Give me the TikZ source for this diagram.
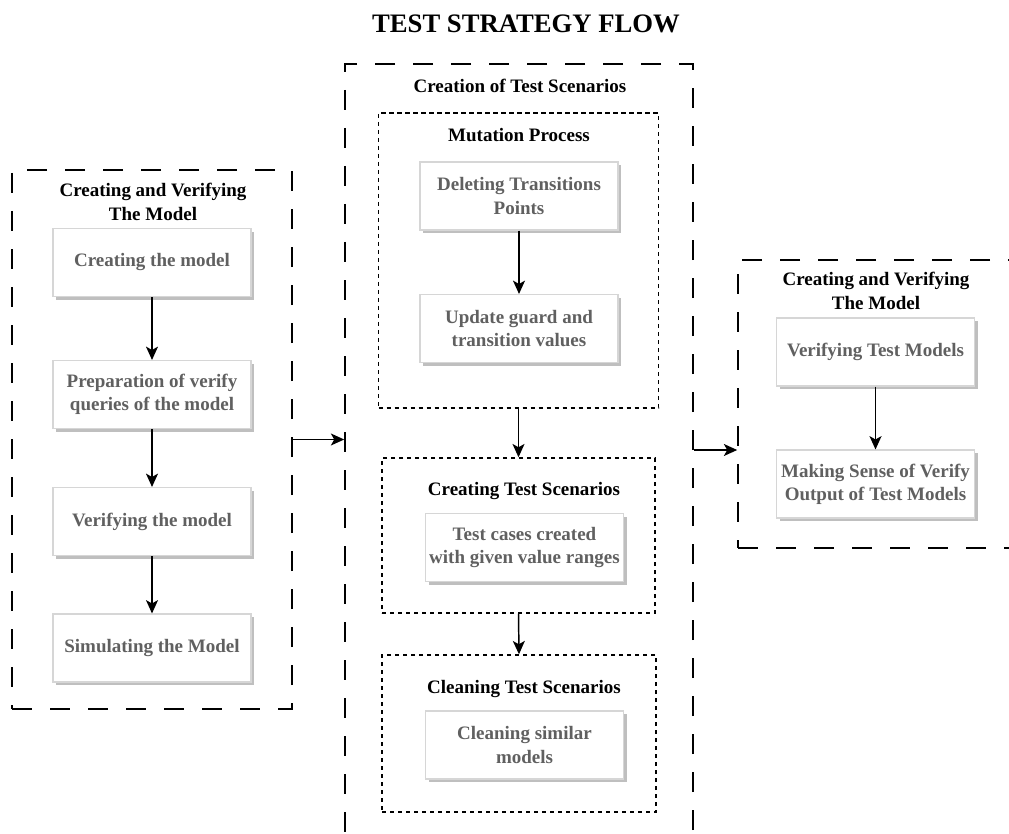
\documentclass[tikz,border=0pt]{standalone}
\usepackage{fontspec}
\setmainfont{Liberation Serif}
\usetikzlibrary{arrows.meta,shadows}

\definecolor{tasktext}{RGB}{96,96,96}
\definecolor{taskline}{RGB}{214,214,214}

\tikzset{
  task/.style={draw=taskline, line width=0.8pt, fill=white, text=tasktext,
    align=center, minimum width=148.5pt, minimum height=51pt, inner sep=0pt,
    drop shadow={shadow xshift=2.6pt, shadow yshift=-2.6pt, fill=black!25, opacity=1}},
  stage/.style={draw, line width=1.2pt, dash pattern=on 15pt off 13.5pt, inner sep=0pt},
  phase/.style={draw, line width=1.1pt, dash pattern=on 3.2pt off 2.8pt, inner sep=0pt},
  caption/.style={align=center, text=black},
  flow/.style={-{Stealth[length=10pt,width=9pt,inset=2.5pt]}, line width=1.1pt},
}

\begin{document}
\begin{tikzpicture}[x=0.75pt, y=-0.75pt,
    font=\fontsize{14.25}{17.5}\selectfont\bfseries]
\clip (0,0) rectangle (1009,834);

\node[font=\fontsize{20}{24}\selectfont\bfseries] (title) at (526,24) {TEST STRATEGY FLOW};

% model stage
\node[stage, minimum width=210pt, minimum height=404.25pt] (model) at (152,439.5) {};
\node[caption] (modelcap) at (153,202) {Creating and Verifying\\The Model};
\node[task] (create) at (152,262.5) {Creating the model};
\node[task] (prepare) at (152,394.5) {Preparation of verify\\queries of the model};
\node[task] (verify) at (152,521.5) {Verifying the model};
\node[task] (simulate) at (152,648) {Simulating the Model};

\draw[flow] (create) -- (prepare);
\draw[flow] (prepare) -- (verify);
\draw[flow] (verify) -- (simulate);

% scenario stage
\node[stage, minimum width=261pt, minimum height=627pt] (scen) at (519,482) {};
\node[caption] (scencap) at (520,86) {Creation of Test Scenarios};

\node[phase, minimum width=210pt, minimum height=221.25pt] (mutate) at (518.5,260.5) {};
\node[caption] (mutatecap) at (519,135) {Mutation Process};
\node[task] (delete) at (519,196) {Deleting Transitions\\Points};
\node[task] (update) at (519,328.5) {Update guard and\\transition values};
\draw[flow] (delete) -- (update);

\node[phase, minimum width=204.75pt, minimum height=116.25pt] (build) at (518.5,535.5) {};
\node[caption] (buildcap) at (524,491) {Creating Test Scenarios};
\node[task] (cases) at (524.5,547.5) {Test cases created\\with given value ranges};

\node[phase, minimum width=205.5pt, minimum height=117.75pt] (clean) at (519,733.5) {};
\node[caption] (cleancap) at (524,689) {Cleaning Test Scenarios};
\node[task] (similar) at (524.5,745) {Cleaning similar\\models};

\draw[flow] (mutate.south) -- (build.north);
\draw[flow] (build.south) -- (clean.north);

% test model stage
\node[stage, minimum width=271.5pt, minimum height=216pt] (check) at (919,404) {};
\node[caption] (checkcap) at (876,291) {Creating and Verifying\\The Model};
\node[task] (verifytest) at (875.5,352) {Verifying Test Models};
\node[task] (sense) at (875.5,484) {Making Sense of Verify\\Output of Test Models};
\draw[flow] (verifytest) -- (sense);

% between stages
\draw[flow] (model.east) -- (model.east -| scen.west);
\path (check.west) ++(0,46) coordinate (checkin);
\draw[flow] (checkin -| scen.east) -- (checkin);
\end{tikzpicture}
\end{document}
